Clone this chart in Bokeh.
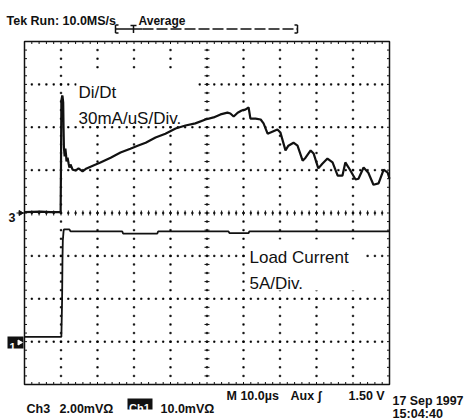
import numpy as np
from bokeh.plotting import figure
from bokeh.models import Range1d
from bokeh.embed import file_html
from bokeh.resources import INLINE
from bokeh.core.properties import value

# ---------------- data (time in µs, 10 µs/div; amplitude in screen divisions) ----------------
ch3_time_us = [0, 4.4, 7.1, 9.7, 9.9, 10.0, 10.1, 10.3, 10.4, 10.6, 10.7, 10.8, 11.0, 11.1, 11.2,
               11.4, 11.5, 11.8, 12.1, 12.3, 12.6, 13.2, 14.0, 14.8, 15.9, 17.0, 18.1, 19.5, 20.8,
               23.6, 26.3, 29.0, 31.0, 33.2, 35.9, 38.6, 41.4, 44.1, 46.8, 49.6, 51.8, 53.7, 55.6,
               56.4, 57.3, 58.4, 59.5, 60.5, 61.4, 61.9, 63.3, 64.7, 65.5, 66.6, 67.4, 69.3, 70.1,
               71.5, 72.3, 73.7, 74.8, 76.2, 77.0, 78.4, 79.2, 80.5, 81.6, 83.0, 84.4, 85.8, 87.1,
               87.9, 88.8, 90.7, 91.5, 92.9, 94.2, 95.6, 97.0, 98.4, 99.5, 100.0]
ch3_div = [0.02, 0.03, 0.02, 0.02, 0.02, 1.11, 2.62, 2.72, 2.74, 2.58, 1.97, 1.53, 1.32, 1.46, 1.50,
           1.34, 1.20, 1.29, 1.15, 1.06, 1.13, 1.01, 0.99, 1.04, 0.97, 1.04, 1.08, 1.13, 1.18,
           1.29, 1.41, 1.50, 1.57, 1.64, 1.76, 1.85, 1.97, 2.04, 2.09, 2.18, 2.23, 2.30, 2.34,
           2.32, 2.25, 2.34, 2.39, 2.41, 2.46, 2.20, 2.20, 2.18, 2.09, 1.85, 1.88, 1.95, 1.88,
           1.46, 1.57, 1.64, 1.57, 1.22, 1.29, 1.46, 1.39, 1.04, 1.15, 1.27, 1.18, 0.87, 0.87,
           1.18, 1.06, 0.78, 0.80, 1.06, 0.94, 0.66, 0.69, 1.01, 0.94, 0.80]

ch1_time_us = [0, 10.1, 10.3, 10.4, 10.5, 10.7, 10.8, 12.3, 12.6, 26.8, 27.0, 36.4, 36.6,
               55.9, 56.2, 61.4, 61.6, 100.0]
ch1_div = [-2.89, -2.89, -2.04, -1.11, -0.64, -0.43, -0.38, -0.38, -0.43, -0.43, -0.48, -0.48,
           -0.43, -0.43, -0.47, -0.47, -0.43, -0.43]

x_divisions = 10
y_divisions = 8
us_per_div = 10
minor_per_div = 5

header_texts = ["Tek Run: 10.0MS/s", "Average"]
trace_notes = ["Di/Dt", "30mA/uS/Div.", "Load Current", "5A/Div."]
footer_texts = ["M 10.0µs", "Aux ʃ", "1.50 V", "17 Sep 1997", "15:04:40",
                "Ch3", "2.00mVΩ", "Ch1", "10.0mVΩ"]

# ---------------- layout (pixel geometry of the graticule) ----------------
W, H = 465, 419
G_LEFT, G_RIGHT, G_TOP, G_BOTTOM = 24, 389, 41, 384
XMAX = x_divisions * us_per_div
YHALF = y_divisions / 2
XS = (G_RIGHT - G_LEFT) / XMAX          # px per µs
YS = (G_BOTTOM - G_TOP) / y_divisions   # px per division
YC = (G_TOP + G_BOTTOM) / 2


def tx(px):
    return (px - G_LEFT) / XS


def vy(py):
    return (YC - py) / YS


p = figure(width=W, height=H,
           x_range=Range1d(tx(0), tx(W)),
           y_range=Range1d(vy(H), vy(0)),
           x_axis_type=None, y_axis_type=None,
           output_backend="svg", toolbar_location=None,
           min_border=0, outline_line_color=None,
           background_fill_color="white", border_fill_color="white")

BLACK = "#111111"

# ---------------- graticule ----------------
xstep = us_per_div / minor_per_div
ystep = 1.0 / minor_per_div
nx = x_divisions * minor_per_div
ny = y_divisions * minor_per_div

# dotted grid lines: one dashed multi-line per grid line, dash period = minor step
vx, vyy = [], []
for k in range(1, x_divisions):
    if k * 2 == x_divisions:
        continue
    vx.append([k * us_per_div, k * us_per_div])
    vyy.append([-YHALF, YHALF])
hx, hy = [], []
for j in range(1, y_divisions):
    if j * 2 == y_divisions:
        continue
    hx.append([0, XMAX])
    hy.append([-YHALF + j, -YHALF + j])

dot_x, dot_y = [], []
for k in range(1, x_divisions):
    for i in range(1, ny):
        dot_x.append(k * us_per_div)
        dot_y.append(-YHALF + i * ystep)
for j in range(1, y_divisions):
    for i in range(1, nx):
        dot_x.append(i * xstep)
        dot_y.append(-YHALF + j)
p.scatter(dot_x, dot_y, marker="square", size=1.5, fill_color="black",
          line_color="black", line_width=0.6)

sx0, sy0, sx1, sy1 = [], [], [], []
edge = 2.5
cen = 2.5
for i in range(1, nx):
    x = i * xstep
    sx0 += [x, x]; sx1 += [x, x]
    sy0 += [YHALF, -YHALF]; sy1 += [YHALF - edge / YS, -YHALF + edge / YS]
    sx0.append(x); sx1.append(x)
    sy0.append(-cen / YS); sy1.append(cen / YS)
for i in range(1, ny):
    y = -YHALF + i * ystep
    sx0 += [0, XMAX]; sx1 += [edge / XS, XMAX - edge / XS]
    sy0 += [y, y]; sy1 += [y, y]
    sx0.append(XMAX / 2 - cen / XS); sx1.append(XMAX / 2 + cen / XS)
    sy0.append(y); sy1.append(y)
p.segment(sx0, sy0, sx1, sy1, line_color=BLACK, line_width=1)

p.quad(left=[0], right=[XMAX], top=[YHALF], bottom=[-YHALF],
       fill_color=None, line_color=BLACK, line_width=1.5)

# white boxes behind on-screen notes
p.quad(left=[tx(76), tx(246)], right=[tx(197), tx(362)],
       top=[vy(73), vy(239)], bottom=[vy(123), vy(290)],
       fill_color="white", line_color=None)

# ---------------- traces ----------------
p.line(ch1_time_us, ch1_div, line_color=BLACK, line_width=1.8)
p.line(ch3_time_us, ch3_div, line_color=BLACK, line_width=2.2)

# ---------------- texts ----------------
NOTE_FONT = value("Liberation Sans")
SCOPE_FONT = value("Liberation Sans")


def txt(px, py, s, size, bold=True, color=BLACK, font=SCOPE_FONT):
    p.text(x=[tx(px)], y=[vy(py)], text=[s], text_font=font,
           text_font_size=value(f"{size}px"),
           text_font_style="bold" if bold else "normal",
           text_color=color, text_align="left", text_baseline="alphabetic")


txt(6, 20.5, header_texts[0], 12.5)
txt(138, 20.5, header_texts[1], 12)

txt(78, 92, trace_notes[0], 17, bold=False, font=NOTE_FONT)
txt(78, 118, trace_notes[1], 17, bold=False, font=NOTE_FONT)
txt(249, 256.5, trace_notes[2], 17, bold=False, font=NOTE_FONT)
txt(249, 282.5, trace_notes[3], 17, bold=False, font=NOTE_FONT)

txt(226, 395, footer_texts[0], 12.5)
txt(290, 395, footer_texts[1], 12.5)
txt(348, 395, footer_texts[2], 12.5)
txt(392, 400, footer_texts[3], 12.4)
txt(392, 413, footer_texts[4], 12.6)
txt(26, 408, footer_texts[5], 12.5)
txt(59, 408, footer_texts[6], 12.5)
p.quad(left=[tx(127)], right=[tx(152)], top=[vy(398)], bottom=[vy(409)],
       fill_color=BLACK, line_color=None)
txt(128.5, 407.5, footer_texts[7], 11, color="white")
txt(160, 408, footer_texts[8], 12.5)

# ---------------- channel markers ----------------
txt(8, 217, "3", 12.5)
p.segment([tx(16)], [0], [tx(24)], [0], line_color=BLACK, line_width=1)
p.scatter([tx(20)], [0], marker="triangle", angle=-np.pi / 2, size=5,
          fill_color=BLACK, line_color=BLACK)

p.quad(left=[tx(7)], right=[tx(23)], top=[vy(336)], bottom=[vy(348)],
       fill_color=BLACK, line_color=None)
txt(9, 346.5, "1", 11, color="white")
p.scatter([tx(19)], [vy(342)], marker="triangle", angle=-np.pi / 2, size=5,
          fill_color="white", line_color="white")

# ---------------- trigger position bracket ----------------
by = vy(28.5)
p.line([tx(115), tx(142)], [by, by], line_color=BLACK, line_width=1.3)
p.line([tx(142), tx(297)], [by, by], line_color=BLACK, line_width=1.3, line_dash="11 3")
p.segment([tx(115), tx(115), tx(115), tx(297), tx(297), tx(297), tx(133), tx(130)],
          [vy(24.5), vy(24.5), vy(32.5), vy(24.5), vy(24.5), vy(32.5), vy(25), vy(25)],
          [tx(115), tx(118), tx(118), tx(297), tx(294), tx(294), tx(133), tx(136)],
          [vy(32.5), vy(24.5), vy(32.5), vy(32.5), vy(24.5), vy(32.5), vy(32.5), vy(25)],
          line_color=BLACK, line_width=1.5)

open("out.html", "w").write(file_html(p, INLINE))
